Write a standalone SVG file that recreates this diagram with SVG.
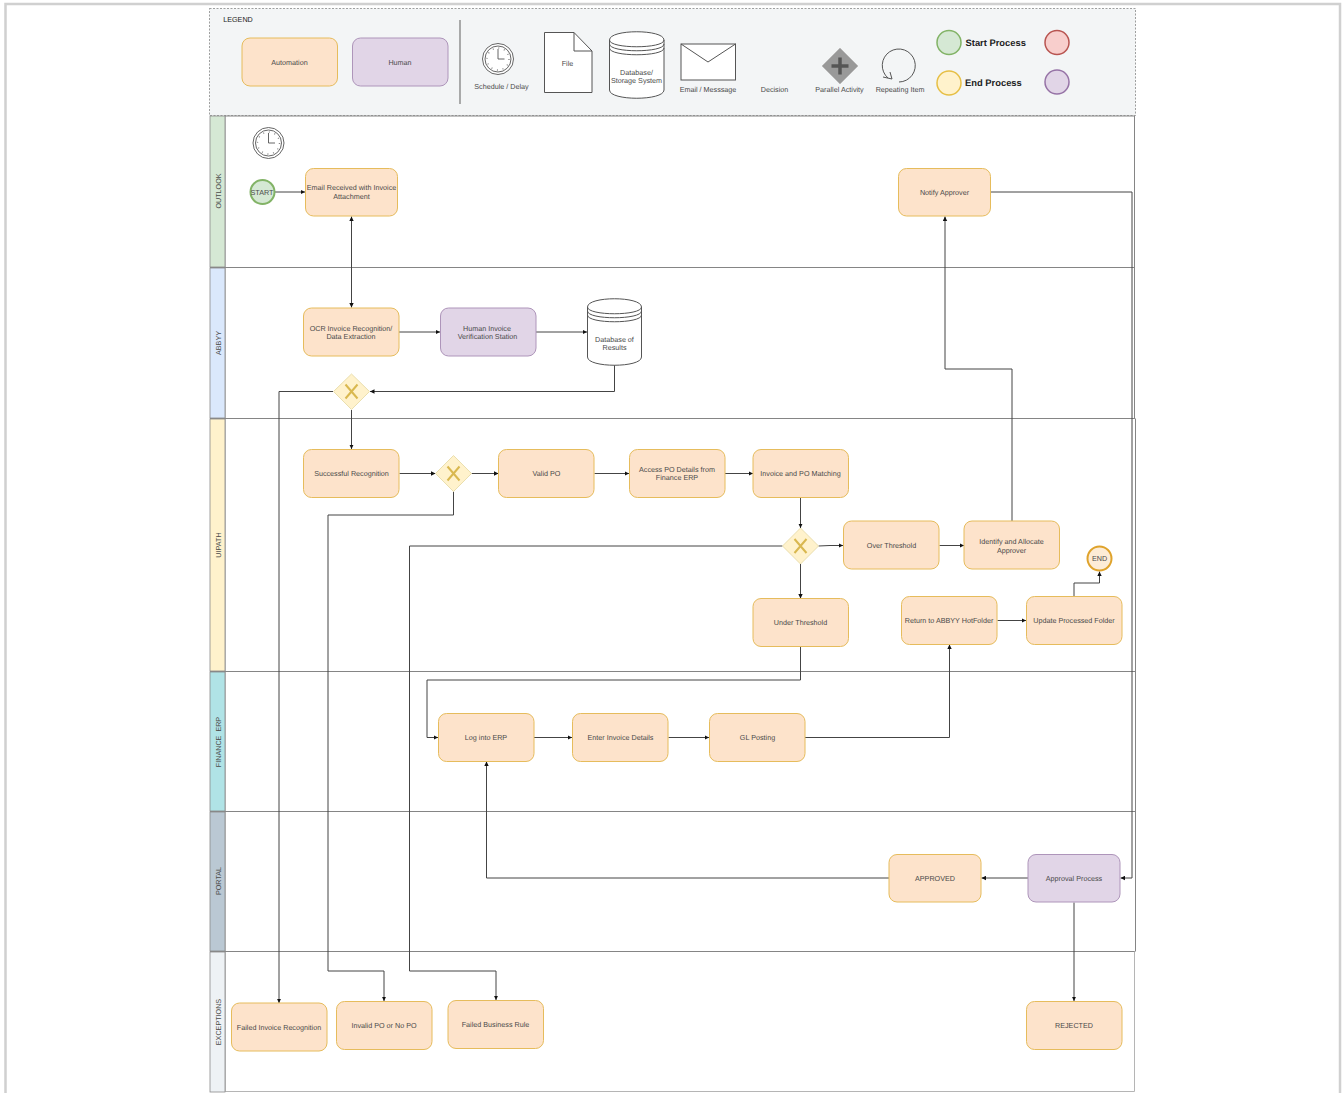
<svg xmlns="http://www.w3.org/2000/svg" width="1344" height="1093" viewBox="0 0 1344 1093">
<style>
text{font-family:"Liberation Sans",Arial,sans-serif;font-size:7.2px;fill:#4a4a4a;text-anchor:middle;text-rendering:geometricPrecision;white-space:pre}
.a rect{fill:#fde3cb;stroke:#e6bc5c;stroke-width:1}
.h rect{fill:#e1d5e7;stroke:#ae95ba;stroke-width:1}
.lane{stroke:#858585;stroke-width:1;fill:none}
.c path{fill:none;stroke:#444;stroke-width:1;marker-end:url(#ar)}
.gw polygon{fill:#fff2cc;stroke:#eadfae;stroke-width:1}
.gw path{fill:none;stroke:#d9b84f;stroke-width:2}
.lb{stroke:#8a8a8a;stroke-width:.8}
.s{fill:#fff;stroke:#555;stroke-width:1}
.n{fill:none;stroke:#555;stroke-width:1}
.b{font-size:9.4px;font-weight:bold;fill:#222;text-anchor:start}
</style>
<defs>
<marker id="ar" markerWidth="5" markerHeight="5" refX="4.500" refY="2.500" orient="auto" markerUnits="userSpaceOnUse"><path d="M0,0.300 L4.500,2.500 L0,4.700 Z" fill="#111"/></marker>
<marker id="ar2" markerWidth="5" markerHeight="5" refX="0.500" refY="2.500" orient="auto" markerUnits="userSpaceOnUse"><path d="M5,0.300 L0.500,2.500 L5,4.700 Z" fill="#111"/></marker>
<g id="clock"><circle r="15.500" fill="#fff" stroke="#555" stroke-width=".9"/><circle r="13" fill="none" stroke="#555" stroke-width=".9"/><path d="M0,-10 V0 H6.500" fill="none" stroke="#555" stroke-width=".9"/><circle r="11" fill="none" stroke="#888" stroke-width="1.400" stroke-dasharray="1 4.760"/></g>
</defs>
<rect x="5.500" y="4" width="1334.500" height="1095" fill="#fff" stroke="#d0d0d0" stroke-width="2.500"/>

<g id="legend">
<rect x="209.500" y="8.500" width="926" height="107" fill="#f3f5f6" stroke="#777" stroke-width=".7" stroke-dasharray="2 1.500"/>
<text x="238" y="21.500" style="fill:#222">LEGEND</text>
<g class="a"><rect x="242" y="38" width="95.500" height="48" rx="8"/></g><text x="289.500" y="64.500">Automation</text>
<g class="h"><rect x="352.500" y="38" width="95.500" height="48" rx="8"/></g><text x="400" y="64.500">Human</text>
<path d="M460 20V104" stroke="#777" stroke-width="1.200"/>
<use href="#clock" x="498" y="59"/>
<text x="501.500" y="88.500">Schedule / Delay</text>
<path class="s" d="M544.500 32.500H574L592 51V92.500H544.500Z"/><path class="n" d="M574 32.500V51H592"/><text x="567.500" y="65.500">File</text>
<path class="s" d="M609.500 40C609.500 29 664 29 664 40V90C664 101 609.500 101 609.500 90Z"/><path class="n" d="M609.500 40C609.500 49 664 49 664 40M609.500 44C609.500 53 664 53 664 44M609.500 48C609.500 57 664 57 664 48"/>
<text x="636.500" y="74.500">Database/</text><text x="636.500" y="82.500">Storage System</text>
<rect class="s" x="681" y="44" width="54.500" height="36"/><path class="n" d="M681 44L708 62L735.500 44"/><text x="708" y="91.500">Email / Messsage</text>
<text x="774.500" y="91.500">Decision</text>
<polygon points="840,48 858,66 840,84 822,66" fill="#999" stroke="#bbb"/><path d="M840 57.500V74.500M831.500 66H848.500" stroke="#555" stroke-width="3.500"/><text x="839.500" y="92">Parallel Activity</text>
<path class="n" d="M899 82A16.500 16.500 0 1 0 888 78"/><path class="n" d="M890 72L892 79L883 77"/><text x="900" y="91.500">Repeating Item</text>
<circle cx="949" cy="42.500" r="12" fill="#d5e8d4" stroke="#82b366" stroke-width="1.500"/><text class="b" x="965.500" y="45.500">Start Process</text>
<circle cx="949" cy="83" r="12" fill="#fff2cc" stroke="#e6bf45" stroke-width="1.500"/><text class="b" x="965" y="86">End Process</text>
<circle cx="1057" cy="42.500" r="12" fill="#f8cecc" stroke="#b85450" stroke-width="1.500"/>
<circle cx="1057" cy="82" r="12" fill="#e1d5e7" stroke="#9673a6" stroke-width="1.500"/>
</g>

<g id="lanes">
<path class="lane" d="M225 116H1134.500V418.500M210 267.500H1135M210 418.500H1135M210 671.500H1135M210 811.500H1135M210 951.500H1135M1135.500 418.500V951.500M225 116V1092"/>
<path d="M1134.500 951.500V1091.500H210" fill="none" stroke="#b5b5b5"/>
<rect class="lb" x="210" y="116" width="15" height="151" fill="#d5e8d4"/>
<rect class="lb" x="210" y="268" width="15" height="150" fill="#dae8fc"/>
<rect class="lb" x="210" y="419" width="15" height="252" fill="#fff2cc"/>
<rect class="lb" x="210" y="672" width="15" height="139" fill="#b0e3e6"/>
<rect class="lb" x="210" y="812" width="15" height="139" fill="#bac8d3"/>
<rect class="lb" x="210" y="952" width="15" height="140" fill="#eef2f5"/>
<text transform="translate(220.500,191) rotate(-90)">OUTLOOK</text>
<text transform="translate(220.500,343) rotate(-90)">ABBYY</text>
<text transform="translate(220.500,545) rotate(-90)">UIPATH</text>
<text transform="translate(220.500,742) rotate(-90)" xml:space="preserve">FINANCE  ERP</text>
<text transform="translate(220.500,881) rotate(-90)">PORTAL</text>
<text transform="translate(220.500,1022) rotate(-90)">EXCEPTIONS</text>
</g>

<g id="connectors" class="c">
<path d="M275 192H305"/>
<path d="M351.500 216.500V307.500" style="marker-start:url(#ar2)"/>
<path d="M399 332H440"/>
<path d="M536 332H587"/>
<path d="M614.500 365V391.500H370"/>
<path d="M351.500 410V449"/>
<path d="M333 391.500H279V1003"/>
<path d="M399.500 473.500H435.500"/>
<path d="M471.500 473.500H498.500"/>
<path d="M453.500 491.500V515H328V971H384V1001"/>
<path d="M594.500 473.500H629"/>
<path d="M725 473.500H753"/>
<path d="M800.500 497.500V528"/>
<path d="M782.500 546H409.500V971H496V1000"/>
<path d="M818.500 546L830 545.500H843"/>
<path d="M939.500 545.500H964"/>
<path d="M1012 521V369H945V216.500"/>
<path d="M990.500 192H1132V878H1120.500"/>
<path d="M800.500 564V598.500"/>
<path d="M800.500 646.500V680H427V737.500H438"/>
<path d="M534 737.500H572"/>
<path d="M668.500 737.500H709"/>
<path d="M805 737.500H949.500V644.500"/>
<path d="M997.500 620.500H1026"/>
<path d="M1074 596.500V583H1099.500V571.500"/>
<path d="M1028 878H981.500"/>
<path d="M889 878H486.500V761.500"/>
<path d="M1074 902.500V1001"/>
</g>

<g id="timer"><use href="#clock" x="268.500" y="143"/></g>
<g id="start"><circle cx="262.500" cy="192" r="12" fill="#d5e8d4" stroke="#82b366" stroke-width="2"/><text x="262" y="194.500">START</text></g>
<g id="n-email" class="a"><rect x="305.500" y="168.500" width="92" height="47.500" rx="8"/><text x="351.500" y="190">Email Received with Invoice</text><text x="351.500" y="199">Attachment</text></g>
<g id="n-notify" class="a"><rect x="898.500" y="168.500" width="92" height="47.500" rx="8"/><text x="944.500" y="195">Notify Approver</text></g>
<g id="n-ocr" class="a"><rect x="303.500" y="308" width="95.500" height="48" rx="8"/><text x="351" y="330.500">OCR Invoice Recognition/</text><text x="351" y="339">Data Extraction</text></g>
<g id="n-human" class="h"><rect x="440.500" y="308" width="95.500" height="48" rx="8"/><text x="487" y="330.500">Human Invoice</text><text x="487.500" y="339">Verification Station</text></g>
<g id="n-db"><path class="s" d="M587.500 307C587.500 296 641.500 296 641.500 307V357C641.500 368 587.500 368 587.500 357Z"/><path class="n" d="M587.500 307C587.500 316 641.500 316 641.500 307M587.500 311C587.500 320 641.500 320 641.500 311M587.500 315C587.500 324 641.500 324 641.500 315"/><text x="614.500" y="341.500">Database of</text><text x="614.500" y="350">Results</text></g>
<g id="g1" class="gw"><polygon points="351.500,374 369.500,391.500 351.500,409.500 333.500,391.500"/><path d="M345.500 384.500L357.500 398.500M357.500 384.500L345.500 398.500"/></g>
<g id="n-success" class="a"><rect x="303.500" y="449.500" width="95.500" height="48" rx="8"/><text x="351.500" y="476">Successful Recognition</text></g>
<g id="g2" class="gw"><polygon points="453.500,455.500 471.500,473.500 453.500,491.500 435.500,473.500"/><path d="M447.500 466.500L459.500 480.500M459.500 466.500L447.500 480.500"/></g>
<g id="n-valid" class="a"><rect x="498.500" y="449.500" width="95.500" height="48" rx="8"/><text x="546.500" y="476">Valid PO</text></g>
<g id="n-access" class="a"><rect x="629.500" y="449.500" width="95.500" height="48" rx="8"/><text x="677" y="471.500">Access PO Details from</text><text x="677" y="480">Finance ERP</text></g>
<g id="n-match" class="a"><rect x="753" y="449.500" width="95.500" height="48" rx="8"/><text x="800.500" y="476">Invoice and PO Matching</text></g>
<g id="g3" class="gw"><polygon points="800.500,528 818.500,546 800.500,564 782.500,546"/><path d="M794.500 539L806.500 553M806.500 539L794.500 553"/></g>
<g id="n-over" class="a"><rect x="843.500" y="521" width="95.500" height="48" rx="8"/><text x="891.500" y="548">Over Threshold</text></g>
<g id="n-identify" class="a"><rect x="964" y="521" width="95.500" height="48" rx="8"/><text x="1011.500" y="544">Identify and Allocate</text><text x="1011.500" y="552.500">Approver</text></g>
<g id="end"><circle cx="1099.500" cy="558.500" r="12" fill="#fdecd6" stroke="#dfa32c" stroke-width="2"/><text x="1099.500" y="561">END</text></g>
<g id="n-under" class="a"><rect x="753" y="598.500" width="95.500" height="48" rx="8"/><text x="800.500" y="625">Under Threshold</text></g>
<g id="n-return" class="a"><rect x="901.500" y="596.500" width="95.500" height="48" rx="8"/><text x="949" y="623">Return to ABBYY HotFolder</text></g>
<g id="n-update" class="a"><rect x="1026.500" y="596.500" width="95.500" height="48" rx="8"/><text x="1074" y="623">Update Processed Folder</text></g>
<g id="n-login" class="a"><rect x="438.500" y="713.500" width="95.500" height="48" rx="8"/><text x="486" y="740">Log into ERP</text></g>
<g id="n-enter" class="a"><rect x="572.500" y="713.500" width="95.500" height="48" rx="8"/><text x="620.500" y="740">Enter Invoice Details</text></g>
<g id="n-gl" class="a"><rect x="709.500" y="713.500" width="95.500" height="48" rx="8"/><text x="757.500" y="740">GL Posting</text></g>
<g id="n-approved" class="a"><rect x="889" y="854.500" width="92" height="47.500" rx="8"/><text x="935" y="881">APPROVED</text></g>
<g id="n-approval" class="h"><rect x="1028" y="854.500" width="92" height="47.500" rx="8"/><text x="1074" y="881">Approval Process</text></g>
<g id="n-failed" class="a"><rect x="231.500" y="1003" width="95.500" height="48" rx="8"/><text x="279" y="1030">Failed Invoice Recognition</text></g>
<g id="n-invalid" class="a"><rect x="336.500" y="1001.500" width="95.500" height="48" rx="8"/><text x="384" y="1028">Invalid PO or No PO</text></g>
<g id="n-rule" class="a"><rect x="448" y="1000.500" width="95.500" height="48" rx="8"/><text x="495.500" y="1027">Failed Business Rule</text></g>
<g id="n-rejected" class="a"><rect x="1026.500" y="1001.500" width="95.500" height="48" rx="8"/><text x="1074" y="1028">REJECTED</text></g>
</svg>
